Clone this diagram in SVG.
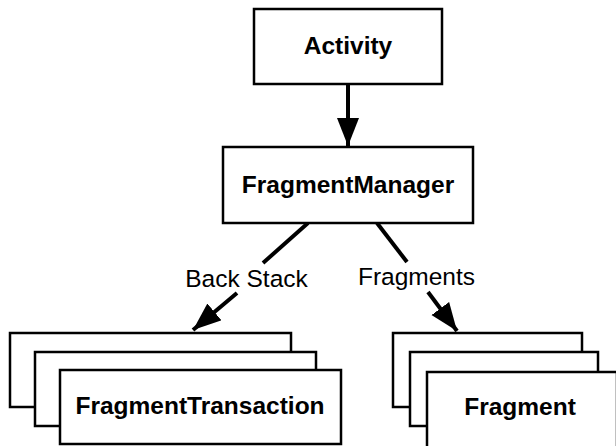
<svg xmlns="http://www.w3.org/2000/svg" width="616" height="446" viewBox="0 0 616 446">
  <defs>
    <marker id="arrow" markerUnits="userSpaceOnUse" markerWidth="30" markerHeight="24" refX="28" refY="11" orient="auto">
      <path d="M0,0 L28,11 L0,22 Z" fill="#000"/>
    </marker>
    <style>
      .box { fill: #fff; stroke: #000; stroke-width: 2.5; }
      .node-label { font-family: "Liberation Sans", Arial, Helvetica, sans-serif; font-weight: bold; font-size: 24.5px; text-anchor: middle; fill: #000; }
      .edge-label { font-family: "Liberation Sans", Arial, Helvetica, sans-serif; font-size: 24.5px; text-anchor: middle; fill: #000; }
      .edge { stroke: #000; stroke-width: 4; fill: none; }
    </style>
  </defs>
  <rect width="616" height="446" fill="#fff"/>

  <g id="connectors">
    <line class="edge" x1="348" y1="84" x2="348" y2="146" marker-end="url(#arrow)"/>
    <line class="edge" x1="308" y1="223" x2="263" y2="263"/>
    <line class="edge" x1="237" y1="293" x2="193" y2="330" marker-end="url(#arrow)"/>
    <line class="edge" x1="377" y1="223" x2="407" y2="262"/>
    <line class="edge" x1="428" y1="292" x2="457" y2="331" marker-end="url(#arrow)"/>
    <text class="edge-label" x="246.5" y="287">Back Stack</text>
    <text class="edge-label" x="416.5" y="285">Fragments</text>
  </g>

  <g id="activity">
    <rect class="box" x="254" y="9" width="188" height="75"/>
    <text class="node-label" x="348" y="54">Activity</text>
  </g>

  <g id="fragment-manager">
    <rect class="box" x="223" y="147" width="250" height="76"/>
    <text class="node-label" x="348" y="193">FragmentManager</text>
  </g>

  <g id="fragment-transaction">
    <rect class="box" x="10" y="333" width="281" height="74"/>
    <rect class="box" x="35" y="352" width="281" height="74"/>
    <rect class="box" x="60" y="370" width="281" height="74"/>
    <text class="node-label" x="200" y="414">FragmentTransaction</text>
  </g>

  <g id="fragment">
    <rect class="box" x="393" y="333" width="189" height="74"/>
    <rect class="box" x="410" y="352" width="188" height="74"/>
    <rect class="box" x="427" y="372" width="190" height="76"/>
    <text class="node-label" x="520" y="415">Fragment</text>
  </g>
</svg>
